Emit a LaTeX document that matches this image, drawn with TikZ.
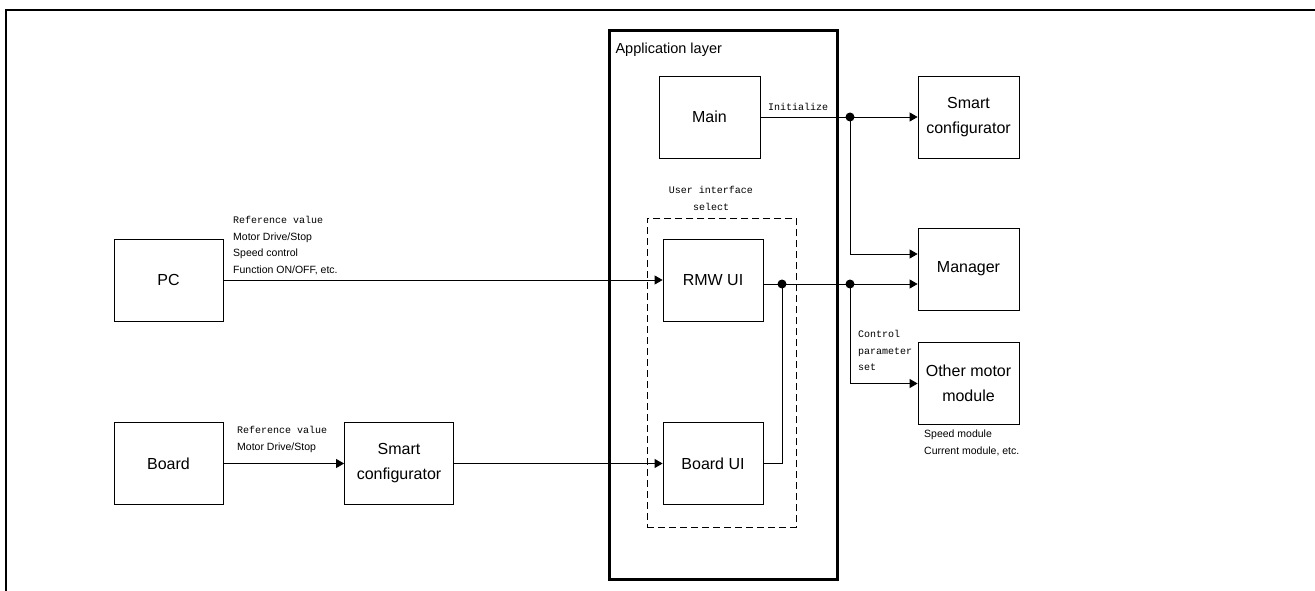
\documentclass[tikz,border=0pt]{standalone}
\usepackage{fontspec}
\setmainfont{Liberation Sans}
\setmonofont{Liberation Mono}
\usetikzlibrary{arrows.meta,positioning}

\begin{document}
\begin{tikzpicture}[x=1pt,y=-1pt,
  box/.style={draw,line width=0.8pt,minimum width=101pt,minimum height=82pt,
    align=center,inner sep=2pt,font=\fontsize{16}{25}\selectfont},
  wbox/.style={box,minimum width=109pt},
  note/.style={inner sep=0pt,align=left,font=\fontsize{10.5}{16.7}\selectfont},
  mnote/.style={note,font=\fontsize{10}{16.7}\selectfont\ttfamily},
  wire/.style={line width=0.8pt},
  arr/.style={wire,-{Triangle[length=8pt,width=9pt]}},
  dot/.style={circle,fill,inner sep=0pt,minimum size=9pt}]
  \useasboundingbox (0,0) rectangle (1315,591);
  % page frame
  \draw[line width=1.8pt] (6,591) -- (6,10) -- (1315,10);
  % application layer
  \node[draw,line width=2.6pt,minimum width=228pt,minimum height=549pt,
    anchor=north west,inner sep=0pt] (applayer) at (608,29) {};
  \node[anchor=west,font=\fontsize{14.5}{16}\selectfont] (applabel) at (612,50) {Application layer};
  \node[draw,dash pattern=on 7pt off 4pt,line width=0.8pt,minimum width=149pt,
    minimum height=309pt,anchor=north west,inner sep=0pt] (uisel) at (647,218) {};
  \node[mnote,align=center,anchor=north] (uilabel) at (711,186) {User interface\\select};
  % blocks
  \node[box] (main) at (709.5,117) {Main};
  \node[box,minimum width=100pt] (rmw) at (713,280) {RMW UI};
  \node[box,minimum width=100pt] (boardui) at (713,463.5) {Board UI};
  \node[box] (smartR) at (968.5,117) {Smart\\configurator};
  \node[box] (manager) at (968.5,269) {Manager};
  \node[box] (other) at (968.5,383.5) {Other motor\\module};
  \node[wbox] (pc) at (168.5,280) {PC};
  \node[wbox] (board) at (168.5,463.5) {Board};
  \node[wbox] (smartL) at (399,463.5) {Smart\\configurator};
  % junctions
  \coordinate (j1) at (850,117);
  \coordinate (j2) at (782,284);
  \coordinate (j3) at (850,284);
  % connectors
  \draw[arr] (pc.east) -- (rmw.west);
  \draw[arr] (board.east) -- (smartL.west);
  \draw[arr] (smartL.east) -- (boardui.west);
  \draw[arr] (main.east) -- (smartR.west);
  \draw[arr] (j1) |- ([yshift=15pt]manager.west);
  \draw[wire] (boardui.east) -| (j2);
  \draw[arr] (rmw.east |- j2) -- (manager.west |- j2);
  \draw[arr] (j3) |- (other.west);
  \node[dot] (d1) at (j1) {};
  \node[dot] (d2) at (j2) {};
  \node[dot] (d3) at (j3) {};
  % labels
  \node[mnote,anchor=base west] (initlabel) at (768,111) {Initialize};
  \node[note,anchor=north west] (pclabel) at (233,216)
    {{\ttfamily\fontsize{10}{16.7}\selectfont Reference value}\\Motor Drive/Stop\\Speed control\\Function ON/OFF, etc.};
  \node[note,anchor=north west] (boardlabel) at (237,426)
    {{\ttfamily\fontsize{10}{16.7}\selectfont Reference value}\\Motor Drive/Stop};
  \node[mnote,anchor=north west] (ctrllabel) at (858,330)
    {Control\\parameter\\set};
  \node[note,anchor=north west] (modlabel) at (924,430)
    {Speed module\\Current module, etc.};
\end{tikzpicture}
\end{document}
